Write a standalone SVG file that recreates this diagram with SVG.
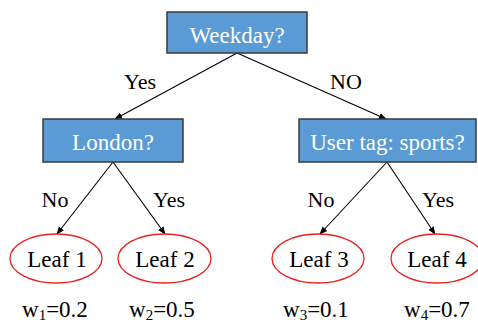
<svg xmlns="http://www.w3.org/2000/svg" width="478" height="323" viewBox="0 0 478 323">
<style>
.box{fill:#5B9BD5;stroke:#3a3a3a;stroke-width:1.5}
.bt{font-family:"Liberation Serif",serif;font-size:23px;fill:#fff;text-anchor:middle}
.leaf{fill:#fff;stroke:#e8211d;stroke-width:1.3}
.lt{font-family:"Liberation Serif",serif;font-size:23px;fill:#000;text-anchor:middle}
.el{font-family:"Liberation Serif",serif;font-size:22px;fill:#000;text-anchor:middle}
.wt{font-family:"Liberation Serif",serif;font-size:23px;fill:#000}
.edge{stroke:#000;stroke-width:1.1;fill:none;marker-end:url(#ah)}
</style>
<defs>
<marker id="ah" viewBox="0 0 10 10" refX="9" refY="5" markerWidth="8" markerHeight="8" markerUnits="userSpaceOnUse" orient="auto">
<path d="M0,1 L10,5 L0,9 Z" fill="#000"/>
</marker>
</defs>
<rect width="478" height="323" fill="#fff"/>
<g id="connectors">
<line class="edge" x1="237" y1="53" x2="115" y2="119"/>
<line class="edge" x1="237" y1="53" x2="386" y2="119"/>
<line class="edge" x1="113" y1="162" x2="57" y2="234"/>
<line class="edge" x1="113" y1="162" x2="165" y2="234"/>
<line class="edge" x1="387" y1="162" x2="320" y2="234"/>
<line class="edge" x1="387" y1="162" x2="435" y2="234"/>
<text class="el" x="140" y="89">Yes</text>
<text class="el" x="346" y="89">NO</text>
<text class="el" x="55" y="207">No</text>
<text class="el" x="169" y="207">Yes</text>
<text class="el" x="321" y="207">No</text>
<text class="el" x="438" y="207">Yes</text>
</g>
<g id="weekday">
<rect class="box" x="167" y="12" width="140" height="41"/>
<text class="bt" x="237" y="43">Weekday?</text>
</g>
<g id="london">
<rect class="box" x="43" y="119" width="140" height="43"/>
<text class="bt" x="113" y="150">London?</text>
</g>
<g id="usertag">
<rect class="box" x="299" y="119" width="177" height="43"/>
<text class="bt" x="387.5" y="150">User tag: sports?</text>
</g>
<g id="leaf1">
<ellipse class="leaf" cx="56" cy="258.5" rx="46" ry="24.5"/>
<text class="lt" x="57" y="267">Leaf 1</text>
</g>
<g id="leaf2">
<ellipse class="leaf" cx="164.5" cy="258.5" rx="46.5" ry="24.5"/>
<text class="lt" x="165" y="267">Leaf 2</text>
</g>
<g id="leaf3">
<ellipse class="leaf" cx="318" cy="258.5" rx="46" ry="24.5"/>
<text class="lt" x="319" y="267">Leaf 3</text>
</g>
<g id="leaf4">
<ellipse class="leaf" cx="437" cy="258.5" rx="46" ry="24.5"/>
<text class="lt" x="437" y="267">Leaf 4</text>
</g>
<g id="weights">
<text class="wt" x="22" y="317">w<tspan font-size="15" dy="3">1</tspan><tspan dy="-3">=0.2</tspan></text>
<text class="wt" x="129" y="317">w<tspan font-size="15" dy="3">2</tspan><tspan dy="-3">=0.5</tspan></text>
<text class="wt" x="283" y="317">w<tspan font-size="15" dy="3">3</tspan><tspan dy="-3">=0.1</tspan></text>
<text class="wt" x="404" y="317">w<tspan font-size="15" dy="3">4</tspan><tspan dy="-3">=0.7</tspan></text>
</g>
</svg>
